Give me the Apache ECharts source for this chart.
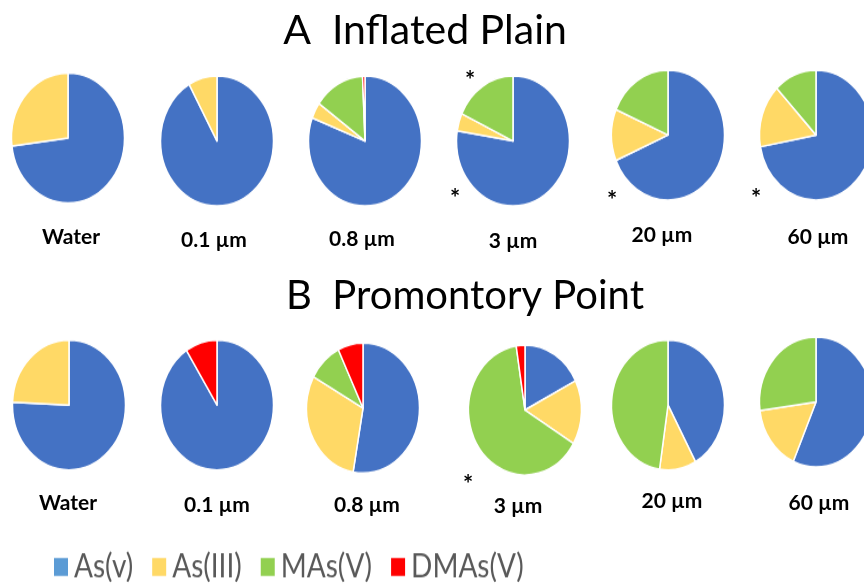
<!DOCTYPE html>
<html>
<head>
<meta charset="utf-8">
<script src="https://cdn.jsdelivr.net/npm/echarts@6/dist/echarts.min.js"></script>
<style>
  html, body { margin: 0; padding: 0; background: #fff; }
  #wrap { position: relative; width: 864px; height: 588px; overflow: hidden; }
  /* the pie layer is stretched vertically so each pie reads as a tall ellipse */
  #pies { position: absolute; left: 0; top: 0; width: 864px; height: 511px;
          transform: scaleY(1.15); transform-origin: 0 0; }
  #labels { position: absolute; left: 0; top: 0; width: 864px; height: 588px; pointer-events: none; }
</style>
</head>
<body>
<div id="wrap"><div id="pies"></div><div id="labels"></div></div>
<script>
// Arsenic species and size fractions
const species = ['As(v)', 'As(III)', 'MAs(V)', 'DMAs(V)'];
const fractions = ['Water', '0.1 µm', '0.8 µm', '3 µm', '20 µm', '60 µm'];

// Share of total arsenic (%), Inflated Plain
const ipAsV   = [73.0, 91.8, 80.8, 77.5, 68.6, 72.1];
const ipAsIII = [27.0,  8.2,  4.0,  4.4, 12.8, 15.7];
const ipMAsV  = [ 0.0,  0.0, 14.5, 18.1, 18.6, 12.2];
const ipDMAsV = [ 0.0,  0.0,  0.7,  0.0,  0.0,  0.0];

// Share of total arsenic (%), Promontory Point
const ppAsV   = [75.7, 90.9, 52.8, 17.6, 41.9, 56.6];
const ppAsIII = [24.3,  0.0, 30.2, 16.0, 10.5, 16.3];
const ppMAsV  = [ 0.0,  0.0,  9.8, 63.9, 47.6, 27.1];
const ppDMAsV = [ 0.0,  9.1,  7.2,  2.5,  0.0,  0.0];

// Fractions flagged with an asterisk, per site
const ipFlags = [[], [], [], ['top', 'bottom'], ['bottom'], ['bottom']];
const ppFlags = [[], [], [], ['bottom'], [], []];

// ---- styling / layout ----
const COLORS = ['#4472C4', '#FFD966', '#92D050', '#FF0000'];
const LEGEND_COLORS = ['#5B9BD5', '#FFD966', '#92D050', '#FF0000'];
const STRETCH = 1.15;
const RADIUS = 56.5;
const centersA = [[68, 138], [217, 141], [365, 141], [513, 141], [668, 135], [816, 135]];
const centersB = [[69, 405], [217, 405], [363, 408], [525, 410], [668, 405], [816, 402]];
const labelPosA = [[71, 237], [214, 240], [362, 239], [513, 241], [662, 235], [818, 237]];
const labelPosB = [[68, 503], [217, 505], [367, 505], [518, 506], [672, 501], [819, 503]];
const flagPosA = [null, null, null, {top: [470, 76], bottom: [455, 194]}, {bottom: [612, 196]}, {bottom: [756, 194]}];
const flagPosB = [null, null, null, {bottom: [468, 480]}, null, null];

const FONT = 'Lato, "Open Sans", sans-serif';

function slices(rows, i) {
  return species
    .map((name, k) => ({ name, value: rows[k][i], itemStyle: { color: COLORS[k] } }))
    .filter(d => d.value > 0);
}

function pieRow(rows, centers) {
  return fractions.map((f, i) => ({
    type: 'pie',
    name: f,
    center: [centers[i][0], centers[i][1] / STRETCH],
    radius: RADIUS,
    startAngle: 90,
    clockwise: true,
    silent: true,
    animation: false,
    label: { show: false },
    labelLine: { show: false },
    itemStyle: { borderColor: '#ffffff', borderWidth: 1.5 },
    data: slices(rows, i)
  }));
}

const pieChart = echarts.init(document.getElementById('pies'), null, { renderer: 'canvas' });
pieChart.setOption({
  backgroundColor: '#ffffff',
  animation: false,
  legend: {
    left: 47,
    top: 474,
    itemWidth: 16,
    itemHeight: 17.4,
    itemGap: 17,
    icon: 'rect',
    selectedMode: false,
    textStyle: { fontSize: 28, color: '#595959', fontFamily: FONT },
    data: species.map((s, k) => ({ name: s, itemStyle: { color: LEGEND_COLORS[k] } }))
  },
  series: [
    ...pieRow([ipAsV, ipAsIII, ipMAsV, ipDMAsV], centersA),
    ...pieRow([ppAsV, ppAsIII, ppMAsV, ppDMAsV], centersB)
  ]
});

// ---- text layer: titles, fraction labels, asterisks ----
const graphics = [];
function addText(text, x, y, style) {
  graphics.push({ type: 'text', x, y, silent: true,
    style: Object.assign({ text, align: 'center', verticalAlign: 'middle', fill: '#000' }, style) });
}
addText('A  Inflated Plain', 425, 31, { fontSize: 41, fontFamily: FONT });
addText('B  Promontory Point', 465, 296, { fontSize: 40, fontFamily: FONT });
fractions.forEach((f, i) => {
  addText(f, labelPosA[i][0], labelPosA[i][1], { fontSize: 21, fontWeight: 'bold', fontFamily: FONT });
  addText(f, labelPosB[i][0], labelPosB[i][1], { fontSize: 21, fontWeight: 'bold', fontFamily: FONT });
  ipFlags[i].forEach(k => addText('*', flagPosA[i][k][0], flagPosA[i][k][1] + 5, { fontSize: 24, fontWeight: 'bold', fontFamily: FONT }));
  ppFlags[i].forEach(k => addText('*', flagPosB[i][k][0], flagPosB[i][k][1] + 5, { fontSize: 24, fontWeight: 'bold', fontFamily: FONT }));
});

const textChart = echarts.init(document.getElementById('labels'), null, { renderer: 'canvas' });
textChart.setOption({ animation: false, graphic: graphics });
</script>
</body>
</html>
